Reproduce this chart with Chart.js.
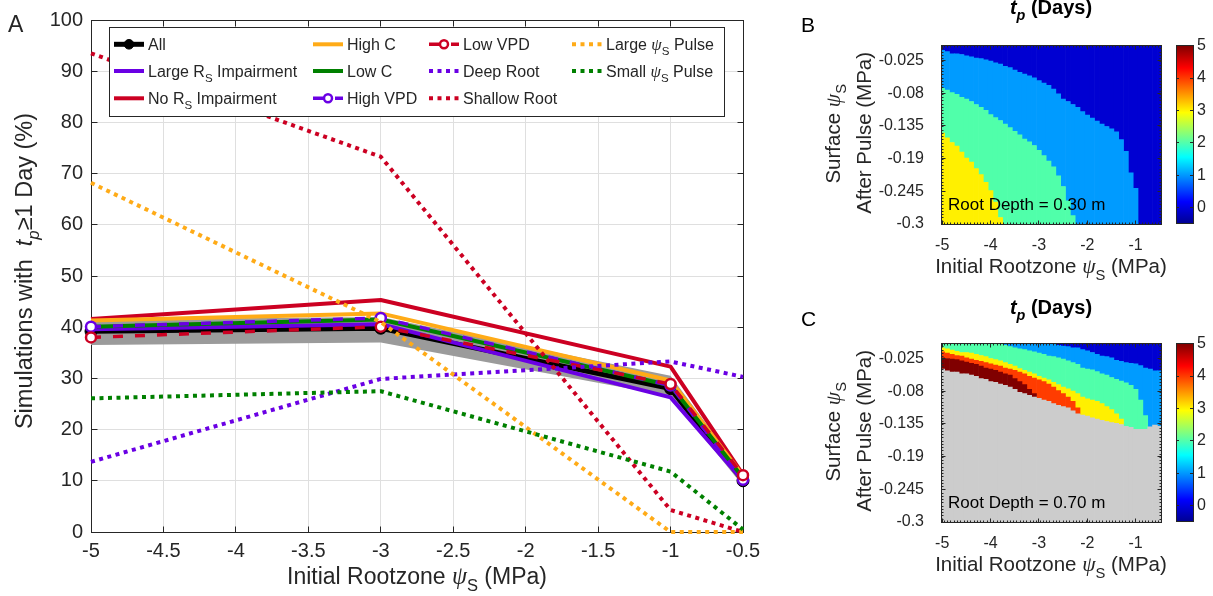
<!DOCTYPE html>
<html><head><meta charset="utf-8">
<script src="https://cdn.jsdelivr.net/npm/chart.js@4.4.1/dist/chart.umd.min.js"></script>
<style>
html,body{margin:0;padding:0;background:#fff;}
#wrap{position:relative;width:1213px;height:596px;overflow:hidden;background:#fff;}
canvas{position:absolute;}
#cA{left:0;top:0;} #cB{left:780px;top:0;} #cC{left:780px;top:298px;}
</style></head><body>
<div id="wrap">
<canvas id="cA" width="780" height="596"></canvas>
<canvas id="cB" width="433" height="298"></canvas>
<canvas id="cC" width="433" height="298"></canvas>
</div>
<script>
// ---------------- DATA: panel A ----------------
const xRoot = [-5, -3, -1, -0.5];
const allSims     = [39.2, 39.8, 28.0, 10.0];
const allBandLow  = [36.5, 37.0, 26.5, 9.0];
const allBandHigh = [41.5, 42.0, 30.5, 11.5];
const largeRsImp  = [39.6, 40.6, 26.3, 10.0];
const noRsImp     = [41.6, 45.3, 32.3, 11.2];
const highC       = [41.3, 42.7, 29.6, 11.0];
const lowC        = [40.1, 41.5, 28.6, 10.6];
const highVpd     = [40.1, 41.8, 28.6, 10.2];
const lowVpd      = [38.0, 40.1, 28.9, 11.1];
const deepRoot    = [13.7, 29.9, 33.3, 30.3];
const shallowRoot = [93.5, 73.3, 4.3, 0.0];
const largePulse  = [68.2, 41.0, 0.0, 0.0];
const smallPulse  = [26.1, 27.5, 11.8, 0.5];
const seriesNames = ['All','Large R_{S} Impairment','No R_{S} Impairment','High C','Low C','High VPD','Low VPD','Deep Root','Shallow Root','Large ψ_{S} Pulse','Small ψ_{S} Pulse'];
const xTicksA = [-5,-4.5,-4,-3.5,-3,-2.5,-2,-1.5,-1,-0.5];
const yTicksA = [0,10,20,30,40,50,60,70,80,90,100];

// ---------------- DATA: panels B, C (t_p in days, zone upper edges per column) ----------------
const xCols = [-5,-4.9,-4.8,-4.7,-4.6,-4.5,-4.4,-4.3,-4.2,-4.1,-4,-3.9,-3.8,-3.7,-3.6,-3.5,-3.4,-3.3,-3.2,-3.1,-3,-2.9,-2.8,-2.7,-2.6,-2.5,-2.4,-2.3,-2.2,-2.1,-2,-1.9,-1.8,-1.7,-1.6,-1.5,-1.4,-1.3,-1.2,-1.1,-1,-0.9,-0.8,-0.7,-0.6,-0.5];
const heatXTicks = [-5,-4,-3,-2,-1];
const heatYTicks = [-0.3,-0.245,-0.19,-0.135,-0.08,-0.025];
const cbTicks = [0,1,2,3,4,5];
// Panel B (root depth 0.30 m)
const bTop3 = [-0.147,-0.155,-0.163,-0.169,-0.179,-0.189,-0.196,-0.207,-0.217,-0.230,-0.244,-0.263,-0.289,null,null,null,null,null,null,null,null,null,null,null,null,null,null,null,null,null,null,null,null,null,null,null,null,null,null,null,null,null,null,null,null,null];
const bTop2 = [-0.072,-0.075,-0.079,-0.082,-0.087,-0.090,-0.094,-0.099,-0.104,-0.109,-0.116,-0.121,-0.126,-0.132,-0.138,-0.144,-0.150,-0.157,-0.162,-0.168,-0.176,-0.185,-0.194,-0.204,-0.219,-0.237,-0.261,-0.286,null,null,null,null,null,null,null,null,null,null,null,null,null,null,null,null,null,null];
const bTop1 = [-0.008,-0.010,-0.014,-0.014,-0.015,-0.017,-0.019,-0.021,-0.022,-0.024,-0.026,-0.029,-0.031,-0.035,-0.037,-0.041,-0.045,-0.048,-0.051,-0.054,-0.059,-0.063,-0.067,-0.073,-0.081,-0.090,-0.094,-0.099,-0.104,-0.111,-0.117,-0.122,-0.127,-0.132,-0.136,-0.140,-0.145,-0.158,-0.178,-0.214,-0.240,null,null,null,null,null];
// Panel C (root depth 0.70 m); cNanTop = upper edge of the no-data region
const cNanTop = [-0.043,-0.046,-0.048,-0.048,-0.051,-0.051,-0.053,-0.055,-0.059,-0.060,-0.064,-0.065,-0.068,-0.070,-0.073,-0.077,-0.082,-0.084,-0.087,-0.090,-0.092,-0.095,-0.097,-0.101,-0.104,-0.106,-0.108,-0.113,-0.118,-0.120,-0.122,-0.125,-0.127,-0.129,-0.131,-0.133,-0.134,-0.136,-0.139,-0.141,-0.144,-0.144,-0.144,-0.140,-0.137,-0.139];
const cTop5 = [-0.024,-0.025,-0.026,-0.027,-0.029,-0.031,-0.033,-0.035,-0.038,-0.041,-0.043,-0.045,-0.048,-0.051,-0.053,-0.059,-0.064,-0.069,-0.077,-0.084,null,null,null,null,null,null,null,null,null,null,null,null,null,null,null,null,null,null,null,null,null,null,null,null,null,null];
const cTop4 = [-0.014,-0.016,-0.018,-0.020,-0.021,-0.024,-0.026,-0.028,-0.030,-0.032,-0.034,-0.036,-0.038,-0.041,-0.043,-0.045,-0.048,-0.051,-0.055,-0.058,-0.061,-0.064,-0.068,-0.073,-0.079,-0.084,-0.090,-0.097,-0.108,null,null,null,null,null,null,null,null,null,null,null,null,null,null,null,null,null];
const cTop3 = [-0.007,-0.009,-0.011,-0.013,-0.015,-0.015,-0.016,-0.018,-0.020,-0.022,-0.025,-0.027,-0.029,-0.032,-0.035,-0.038,-0.042,-0.045,-0.048,-0.051,-0.055,-0.058,-0.061,-0.065,-0.069,-0.073,-0.076,-0.080,-0.084,-0.090,-0.093,-0.095,-0.097,-0.101,-0.106,-0.111,-0.118,-0.127,null,null,null,null,null,null,null,null];
const cTop2 = [0,0,0,0,0,0,0,0,0,0,0,0,0,-0.003,-0.005,-0.007,-0.009,-0.010,-0.012,-0.014,-0.016,-0.018,-0.021,-0.022,-0.024,-0.026,-0.029,-0.032,-0.035,-0.041,-0.043,-0.044,-0.047,-0.051,-0.053,-0.057,-0.060,-0.063,-0.066,-0.070,-0.077,-0.095,-0.121,null,null,null];
const cTop1 = [null,null,null,null,null,null,null,null,null,null,null,null,null,0,0,0,0,0,0,0,0,0,0,0,-0.003,-0.004,-0.005,-0.007,-0.007,-0.010,-0.012,-0.015,-0.018,-0.021,-0.022,-0.024,-0.028,-0.030,-0.032,-0.033,-0.034,-0.037,-0.041,-0.043,-0.046,-0.046];

// ---------------- STYLE ----------------
const FONT = '"Liberation Sans", Arial, Helvetica, sans-serif';
const SERIF = '"Liberation Serif", "DejaVu Serif", serif';
const AX = '#262626', GRID = '#dfdfdf';
const PURPLE = '#6a00e4', RED = '#cc0022', ORANGE = '#ffab17', GREEN = '#008000';
const DOT = [4, 4.5], DASH = [10, 12];
const styleA = [
  {c:'#000', w:5, pr:6, pf:'#000', pw:1},
  {c:PURPLE, w:4},
  {c:RED, w:4},
  {c:ORANGE, w:4},
  {c:GREEN, w:4},
  {c:PURPLE, w:3.5, dash:DASH, pr:5, pf:'#fff', pw:2.5},
  {c:RED, w:3.5, dash:DASH, pr:5, pf:'#fff', pw:2.5},
  {c:PURPLE, w:4, dash:DOT},
  {c:RED, w:4, dash:DOT},
  {c:ORANGE, w:4, dash:DOT},
  {c:GREEN, w:4, dash:DOT}
];
const zoneColors = ['rgb(0,0,210)','rgb(0,155,255)','rgb(80,255,170)','rgb(255,240,0)','rgb(255,60,0)','rgb(128,0,0)'];
const NAN_COLOR = 'rgb(204,204,204)';

Chart.defaults.font.family = FONT;
Chart.defaults.color = AX;

// ---------------- rich text helper ----------------
function richSegments(str){
  const segs=[]; let it=false, sub=false, buf='';
  const push=()=>{ if(buf){segs.push({t:buf,it,sub,greek:false}); buf='';} };
  for(let i=0;i<str.length;i++){
    const c=str[i];
    if(c==='*'){push(); it=!it; continue;}
    if(c==='_' && str[i+1]==='{'){push(); sub=true; i++; continue;}
    if(c==='}' && sub){push(); sub=false; continue;}
    if(c==='ψ'){push(); segs.push({t:c,it:true,sub,greek:true}); continue;}
    buf+=c;
  }
  push(); return segs;
}
function segFont(s,size,bold){
  const fs=(s.sub?size*0.72:size)*(s.greek?1.05:1);
  return (s.it?'italic ':'')+(bold?'bold ':'')+fs.toFixed(2)+'px '+(s.greek?SERIF:FONT);
}
function drawRich(ctx,str,x,y,o){
  const size=o.size, segs=richSegments(str);
  ctx.save(); ctx.translate(x,y); if(o.rot) ctx.rotate(o.rot);
  let w=0; segs.forEach(s=>{ctx.font=segFont(s,size,o.bold); s.w=ctx.measureText(s.t).width; w+=s.w;});
  let cx = o.align==='center' ? -w/2 : (o.align==='right' ? -w : 0);
  ctx.fillStyle=o.color||AX; ctx.textBaseline='alphabetic'; ctx.textAlign='left';
  segs.forEach(s=>{ctx.font=segFont(s,size,o.bold); ctx.fillText(s.t,cx,s.sub?size*0.32:0); cx+=s.w;});
  ctx.restore();
}
function al(p){ return Math.round(p-0.5)+0.5; }

// ---------------- PANEL A ----------------
const seriesA = [allSims, largeRsImp, noRsImp, highC, lowC, highVpd, lowVpd, deepRoot, shallowRoot, largePulse, smallPulse];
const pts = vals => xRoot.map((x,i)=>({x, y: vals[i]}));
const dsA = [
  {label:'band low', data:pts(allBandLow), borderWidth:0, pointRadius:0, fill:false, order:101, clip:false},
  {label:'band high', data:pts(allBandHigh), borderWidth:0, pointRadius:0, fill:'-1', backgroundColor:'#9b9b9b', order:100, clip:false}
];
seriesA.forEach((vals,i)=>{
  const st=styleA[i];
  dsA.push({
    label:seriesNames[i], data:pts(vals), borderColor:st.c, backgroundColor:st.c,
    borderWidth:st.w, borderDash:st.dash||[], borderCapStyle:'butt', borderJoinStyle:'round',
    pointRadius:st.pr||0, pointBackgroundColor:st.pf||st.c, pointBorderColor:st.c,
    pointBorderWidth:st.pw||0, fill:false, order:50-i, clip:false, tension:0
  });
});

const LEG = {box:[109,27,724,116], cols:[114,313,429,572], rows:[44.3,71,98.3], len:30, gap:4, font:16};

const plugA = {
  id:'plugA',
  beforeDatasetsDraw(chart){
    const {ctx, chartArea:a, scales:{x,y}} = chart;
    const L=al(a.left), R=al(a.right), T=al(a.top), B=al(a.bottom);
    ctx.save(); ctx.strokeStyle=AX; ctx.lineWidth=1; ctx.beginPath();
    xTicksA.forEach(v=>{const p=al(x.getPixelForValue(v)); ctx.moveTo(p,B); ctx.lineTo(p,B-6); ctx.moveTo(p,T); ctx.lineTo(p,T+6);});
    yTicksA.forEach(v=>{const p=al(y.getPixelForValue(v)); ctx.moveTo(L,p); ctx.lineTo(L+6,p); ctx.moveTo(R,p); ctx.lineTo(R-6,p);});
    ctx.stroke(); ctx.strokeRect(L,T,R-L,B-T); ctx.restore();
  },
  afterDatasetsDraw(chart){
    const ctx=chart.ctx; const b=LEG.box;
    ctx.save();
    ctx.fillStyle='#fff'; ctx.fillRect(b[0],b[1],b[2]-b[0],b[3]-b[1]);
    ctx.strokeStyle=AX; ctx.lineWidth=1; ctx.strokeRect(al(b[0]),al(b[1]),Math.round(b[2]-b[0]),Math.round(b[3]-b[1]));
    ctx.restore();
    seriesNames.forEach((name,i)=>{
      const col=Math.floor(i/3), row=i%3, x0=LEG.cols[col], yy=LEG.rows[row], st=styleA[i];
      ctx.save(); ctx.strokeStyle=st.c; ctx.lineWidth=st.w; ctx.setLineDash(st.dash||[]); ctx.lineCap='butt';
      ctx.beginPath(); ctx.moveTo(x0,yy); ctx.lineTo(x0+LEG.len,yy); ctx.stroke();
      if(st.pr){ ctx.setLineDash([]); ctx.beginPath(); ctx.arc(x0+LEG.len/2,yy,st.pr*0.8,0,2*Math.PI);
        ctx.fillStyle=st.pf; ctx.fill(); ctx.lineWidth=st.pw||1; ctx.stroke(); }
      ctx.restore();
      drawRich(ctx,name,x0+LEG.len+LEG.gap,yy+5.8,{size:LEG.font});
    });
  },
  afterDraw(chart){
    const {ctx, chartArea:a} = chart;
    drawRich(ctx,'A',8,31.5,{size:23});
    drawRich(ctx,'Initial Rootzone ψ_{S} (MPa)',(a.left+a.right)/2,584,{size:23,align:'center'});
    drawRich(ctx,'Simulations with  *t*_{*p*}≥1 Day (%)',31.5,271,{size:23.5,align:'center',rot:-Math.PI/2});
  }
};

new Chart(document.getElementById('cA'), {
  type:'line',
  data:{datasets:dsA},
  options:{
    responsive:false, animation:false, devicePixelRatio:1, events:[],
    layout:{padding:{top:20,right:37,bottom:0,left:0}},
    plugins:{legend:{display:false}, tooltip:{enabled:false}},
    scales:{
      x:{type:'linear', min:-5, max:-0.5,
         afterBuildTicks:s=>{s.ticks=xTicksA.map(v=>({value:v}));},
         ticks:{callback:v=>String(v), font:{size:20}, color:AX, padding:7, maxRotation:0, autoSkip:false},
         grid:{color:GRID, drawTicks:false, lineWidth:1}, border:{display:false},
         afterFit:s=>{s.height=64;}},
      y:{type:'linear', min:0, max:100,
         afterBuildTicks:s=>{s.ticks=yTicksA.map(v=>({value:v}));},
         ticks:{callback:v=>String(v), font:{size:20}, color:AX, padding:8, autoSkip:false},
         grid:{color:GRID, drawTicks:false, lineWidth:1}, border:{display:false},
         afterFit:s=>{s.width=91;}}
    }
  },
  plugins:[plugA]
});

// ---------------- PANELS B, C ----------------
const Y_MIN = -0.3, Y_MAX = 0;
function heatDatasets(zoneTops, colors){
  const sets = zoneTops.map((z,i)=>({data:[], backgroundColor:colors[i]}));
  const topSet = {data:[], backgroundColor:colors[zoneTops.length]};
  xCols.forEach((x,k)=>{
    let cur = Y_MIN;
    zoneTops.forEach((z,i)=>{ const t=z[k]; if(t!==null && t>cur){ sets[i].data.push({x, y:[cur,t]}); cur=t; } });
    if(cur < Y_MAX) topSet.data.push({x, y:[cur, Y_MAX]});
  });
  return [...sets, topSet].map(s=>({type:'bar', data:s.data, backgroundColor:s.backgroundColor,
    grouped:false, barPercentage:1, categoryPercentage:1, borderWidth:0, borderSkipped:false,
    clip:0, xAxisID:'x', yAxisID:'y'}));
}

function heatPlugin(letter, depthText, titleY, letterY){
  return {
    id:'heat'+letter,
    afterDatasetsDraw(chart){
      const {ctx, chartArea:a, scales:{x,y,cb}} = chart;
      const L=al(a.left), R=al(a.right), T=al(a.top), B=al(a.bottom);
      ctx.save(); ctx.strokeStyle=AX; ctx.lineWidth=1; ctx.beginPath();
      for(let p=a.left+3.3; p<a.right-1; p+=3.3){ const q=al(p); ctx.moveTo(q,B); ctx.lineTo(q,B-2); ctx.moveTo(q,T); ctx.lineTo(q,T+2); }
      for(let p=a.top+3.25; p<a.bottom-1; p+=3.25){ const q=al(p); ctx.moveTo(L,q); ctx.lineTo(L+2,q); ctx.moveTo(R,q); ctx.lineTo(R-2,q); }
      heatXTicks.forEach(v=>{const p=al(x.getPixelForValue(v)); ctx.moveTo(p,B); ctx.lineTo(p,B-4); ctx.moveTo(p,T); ctx.lineTo(p,T+4);});
      heatYTicks.forEach(v=>{const p=al(y.getPixelForValue(v)); ctx.moveTo(L,p); ctx.lineTo(L+4,p); ctx.moveTo(R,p); ctx.lineTo(R-4,p);});
      ctx.stroke(); ctx.strokeRect(L,T,R-L,B-T);
      const cx0=a.right+15, cw=17, ct=cb.getPixelForValue(5), cbm=cb.getPixelForValue(-0.5);
      const g=ctx.createLinearGradient(0,cbm,0,ct);
      [[0,'rgb(0,0,143)'],[0.125,'rgb(0,0,255)'],[0.375,'rgb(0,255,255)'],[0.625,'rgb(255,255,0)'],[0.875,'rgb(255,0,0)'],[1,'rgb(128,0,0)']].forEach(s=>g.addColorStop(s[0],s[1]));
      ctx.fillStyle=g; ctx.fillRect(cx0,ct,cw,cbm-ct);
      ctx.beginPath();
      cbTicks.forEach(v=>{const p=al(cb.getPixelForValue(v)); ctx.moveTo(cx0+cw,p); ctx.lineTo(cx0+cw-3,p); ctx.moveTo(cx0,p); ctx.lineTo(cx0+3,p);});
      ctx.stroke();
      ctx.strokeRect(al(cx0),al(ct),Math.round(cw),Math.round(cbm-ct));
      ctx.restore();
      drawRich(ctx,depthText,a.left+7,a.bottom-14,{size:17,color:'#000'});
    },
    afterDraw(chart){
      const {ctx, chartArea:a} = chart;
      const cxm=(a.left+a.right)/2, cym=(a.top+a.bottom)/2;
      drawRich(ctx,letter,21,letterY,{size:21,color:'#000'});
      drawRich(ctx,'*t*_{*p*} (Days)',cxm,titleY,{size:20,bold:true,align:'center',color:'#000'});
      drawRich(ctx,'Initial Rootzone ψ_{S} (MPa)',cxm,273,{size:20.5,align:'center'});
      drawRich(ctx,'Surface ψ_{S}',59.5,cym-1,{size:20.5,align:'center',rot:-Math.PI/2});
      drawRich(ctx,'After Pulse (MPa)',91,cym-2,{size:20.5,align:'center',rot:-Math.PI/2});
    }
  };
}

function heatChart(id, datasets, letter, depthText, titleY, letterY){
  return new Chart(document.getElementById(id), {
    type:'bar',
    data:{datasets},
    options:{
      responsive:false, animation:false, devicePixelRatio:1, events:[],
      layout:{padding:{top:29,right:0,bottom:0,left:0}},
      plugins:{legend:{display:false}, tooltip:{enabled:false}},
      scales:{
        x:{type:'linear', min:-5.025, max:-0.475, offset:false,
           afterBuildTicks:s=>{s.ticks=heatXTicks.map(v=>({value:v}));},
           ticks:{callback:v=>String(v), font:{size:16}, color:AX, padding:12, maxRotation:0, autoSkip:false},
           grid:{display:false, drawTicks:false}, border:{display:false},
           afterFit:s=>{s.height=74;}},
        y:{type:'linear', min:Y_MIN, max:Y_MAX,
           afterBuildTicks:s=>{s.ticks=heatYTicks.map(v=>({value:v}));},
           ticks:{callback:v=>String(v), font:{size:16}, color:AX, padding:17, autoSkip:false},
           grid:{display:false, drawTicks:false}, border:{display:false},
           afterFit:s=>{s.width=161;}},
        cb:{type:'linear', position:'right', min:-0.5, max:5,
           afterBuildTicks:s=>{s.ticks=cbTicks.map(v=>({value:v}));},
           ticks:{callback:v=>String(v), font:{size:16}, color:AX, padding:36, autoSkip:false},
           grid:{display:false, drawTicks:false}, border:{display:false},
           afterFit:s=>{s.width=52;}}
      }
    },
    plugins:[heatPlugin(letter, depthText, titleY, letterY)]
  });
}

heatChart('cB', heatDatasets([bTop3, bTop2, bTop1], [zoneColors[3], zoneColors[2], zoneColors[1], zoneColors[0]]), 'B', 'Root Depth = 0.30 m', 13.5, 31.5);
heatChart('cC', heatDatasets([cNanTop, cTop5, cTop4, cTop3, cTop2, cTop1], [NAN_COLOR, zoneColors[5], zoneColors[4], zoneColors[3], zoneColors[2], zoneColors[1], zoneColors[0]]), 'C', 'Root Depth = 0.70 m', 15.5, 28);
</script>
</body></html>
